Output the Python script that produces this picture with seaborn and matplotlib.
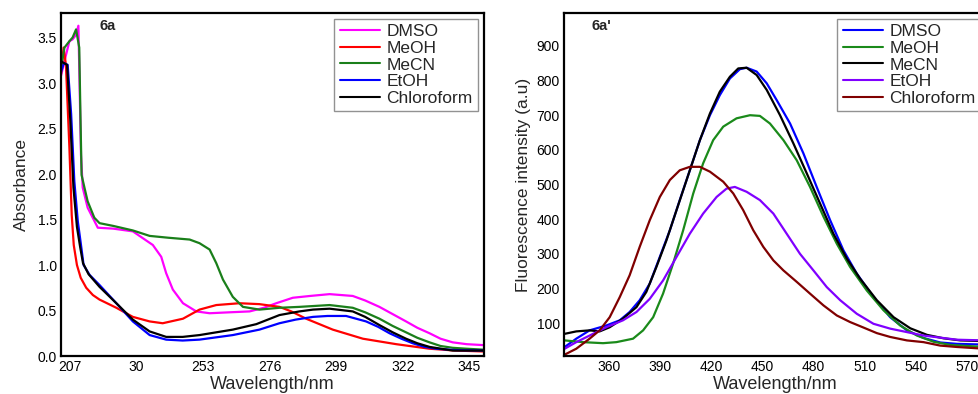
import pandas as pd
import numpy as np
import seaborn as sns
import matplotlib.pyplot as plt

# ---- panel 6a : absorbance ----
abs_dmso_x = [204.0, 205.2, 206.9, 208.0, 209.2, 210.0, 210.4, 210.9, 211.5, 213.2, 216.7, 222.0, 228.8, 235.7,
              238.6, 240.3, 242.6, 246.1, 250.7, 255.3, 262.0, 269.1, 274.0, 278.3, 284.0, 290.0, 296.7, 304.7,
              309.0, 313.9, 318.5, 323.1, 327.0, 331.2, 335.0, 339.2, 344.0, 349.6]
abs_dmso_y = [3.08, 3.24, 3.46, 3.48, 3.53, 3.63, 3.02, 2.21, 1.85, 1.63, 1.41, 1.40, 1.37, 1.22,
              1.09, 0.91, 0.73, 0.58, 0.49, 0.47, 0.48, 0.49, 0.53, 0.58, 0.64, 0.66, 0.68, 0.66,
              0.61, 0.54, 0.46, 0.38, 0.31, 0.25, 0.19, 0.15, 0.13, 0.12]

abs_meoh_x = [204.0, 204.9, 205.7, 206.9, 207.7, 208.4, 209.5, 210.8, 212.7, 215.0, 217.3, 223.1, 228.8, 234.6,
              239.1, 246.1, 251.8, 257.6, 265.6, 272.5, 279.4, 283.5, 288.6, 297.8, 308.2, 319.7, 331.2, 340.0,
              349.6]
abs_meoh_y = [3.10, 3.39, 3.20, 2.29, 1.55, 1.22, 1.00, 0.86, 0.75, 0.67, 0.62, 0.53, 0.43, 0.38,
              0.36, 0.41, 0.51, 0.56, 0.58, 0.57, 0.54, 0.49, 0.41, 0.29, 0.19, 0.13, 0.08, 0.06,
              0.05]

abs_mecn_x = [204.0, 205.2, 206.9, 208.0, 209.2, 210.3, 210.7, 211.1, 212.1, 213.2, 215.5, 217.3, 222.0, 228.8,
              234.6, 241.0, 248.4, 251.8, 255.3, 257.6, 259.9, 263.3, 266.8, 272.5, 279.4, 286.3, 296.7, 304.7,
              309.0, 313.9, 318.5, 323.1, 327.0, 331.2, 335.0, 339.2, 344.0, 349.6]
abs_mecn_y = [3.17, 3.39, 3.46, 3.50, 3.59, 3.39, 2.66, 1.99, 1.85, 1.70, 1.52, 1.46, 1.43, 1.38,
              1.32, 1.30, 1.28, 1.24, 1.17, 1.02, 0.84, 0.65, 0.54, 0.51, 0.53, 0.54, 0.56, 0.53,
              0.48, 0.41, 0.33, 0.26, 0.20, 0.15, 0.11, 0.09, 0.08, 0.07]

abs_etoh_x = [204.0, 205.0, 206.3, 207.5, 208.6, 209.8, 210.9, 211.8, 213.9, 217.3, 223.1, 228.8, 234.6, 240.3,
              246.0, 251.8, 263.3, 272.5, 279.4, 285.0, 291.0, 296.0, 302.4, 309.3, 313.5, 317.4, 321.5, 325.4,
              329.5, 333.5, 340.0, 349.6]
abs_etoh_y = [3.12, 3.22, 3.20, 2.66, 1.92, 1.48, 1.22, 1.00, 0.89, 0.78, 0.58, 0.38, 0.23, 0.18,
              0.17, 0.18, 0.23, 0.29, 0.36, 0.40, 0.43, 0.44, 0.44, 0.38, 0.32, 0.25, 0.19, 0.14,
              0.10, 0.08, 0.065, 0.06]

abs_chcl3_x = [204.0, 205.0, 206.1, 207.2, 208.3, 209.5, 210.6, 211.6, 213.5, 217.3, 223.1, 228.8, 234.6, 240.3,
               246.0, 251.8, 263.3, 271.4, 279.4, 286.3, 291.0, 296.7, 304.7, 309.0, 313.9, 318.5, 323.1, 327.0,
               331.2, 339.2, 349.6]
abs_chcl3_y = [3.24, 3.22, 3.20, 2.60, 1.85, 1.42, 1.20, 1.02, 0.90, 0.76, 0.58, 0.40, 0.27, 0.21,
               0.21, 0.23, 0.29, 0.35, 0.45, 0.49, 0.51, 0.52, 0.49, 0.43, 0.34, 0.26, 0.19, 0.14,
               0.10, 0.06, 0.06]

abs_xticks = [207, 230, 253, 276, 299, 322, 345]
abs_xticklabels = ["207", "30", "253", "276", "299", "322", "345"]

# ---- panel 6a' : fluorescence ----
fl_dmso_x = [334.0, 340.8, 348.6, 358.4, 366.3, 372.1, 378.0, 383.9, 389.8, 395.7, 401.5, 407.4, 413.3, 419.2,
             425.0, 430.9, 436.8, 440.7, 446.6, 452.5, 458.3, 466.2, 474.0, 481.8, 489.7, 497.5, 505.3, 515.1,
             524.9, 534.7, 544.5, 554.3, 564.1, 580.0]
fl_dmso_y = [31, 55, 79, 93, 108, 132, 166, 214, 291, 368, 455, 541, 628, 700,
             758, 806, 833, 837, 826, 792, 744, 676, 590, 493, 397, 310, 243, 175,
             117, 79, 57, 44, 40, 38]

fl_meoh_x = [334.0, 344.7, 356.5, 364.3, 374.1, 380.0, 385.9, 391.7, 397.6, 403.5, 409.4, 415.2, 421.1, 427.0,
             434.8, 442.7, 448.5, 454.4, 462.3, 470.1, 477.9, 485.8, 493.6, 501.4, 511.2, 521.0, 530.8, 540.6,
             550.4, 560.2, 580.0]
fl_meoh_y = [50, 45, 42, 45, 55, 79, 117, 185, 272, 368, 474, 561, 628, 667,
             691, 700, 698, 676, 628, 570, 493, 407, 329, 262, 194, 137, 93, 64,
             46, 37, 31]

fl_mecn_x = [334.0, 340.8, 348.6, 354.5, 360.4, 368.2, 376.1, 381.9, 387.8, 393.7, 399.6, 407.4, 413.3, 419.2,
             425.0, 430.9, 435.8, 440.7, 446.6, 452.5, 460.3, 468.1, 476.0, 483.8, 491.6, 499.5, 507.3, 517.1,
             526.9, 536.7, 546.5, 556.3, 566.1, 580.0]
fl_mecn_y = [69, 76, 79, 76, 88, 113, 146, 190, 262, 339, 426, 541, 628, 705,
             768, 811, 835, 837, 816, 773, 700, 619, 532, 445, 358, 286, 228, 166,
             117, 85, 66, 56, 50, 48]

fl_etoh_x = [334.0, 340.8, 348.6, 358.4, 368.2, 376.1, 383.9, 391.7, 399.6, 407.4, 415.2, 423.1, 428.9, 433.8,
             440.7, 448.5, 456.4, 464.2, 472.0, 479.9, 487.7, 495.6, 505.3, 515.1, 524.9, 534.7, 544.5, 554.3,
             564.1, 580.0]
fl_etoh_y = [26, 45, 64, 88, 108, 132, 170, 223, 291, 358, 416, 464, 488, 493,
             479, 455, 416, 358, 300, 252, 204, 166, 127, 98, 84, 74, 64, 58,
             52, 50]

fl_chcl3_x = [334.0, 340.8, 348.6, 354.5, 360.4, 366.3, 372.1, 378.0, 383.9, 389.8, 395.7, 401.5, 407.4, 413.3,
              419.2, 427.0, 432.9, 438.7, 444.6, 450.5, 456.4, 462.3, 470.1, 477.9, 485.8, 493.6, 501.4, 509.3,
              517.1, 524.9, 534.7, 544.5, 554.3, 564.1, 580.0]
fl_chcl3_y = [9, 26, 55, 79, 117, 175, 238, 320, 397, 464, 513, 541, 551, 551,
              537, 508, 474, 426, 368, 320, 281, 252, 219, 185, 151, 122, 103, 87,
              71, 60, 50, 45, 35, 31, 26]

solvents = ["DMSO", "MeOH", "MeCN", "EtOH", "Chloroform"]
abs_colors = ["#ff00ff", "#ff0000", "#1a7f1a", "#0000ff", "#000000"]
fl_colors = ["#0000ff", "#1a8a1a", "#000000", "#8000ff", "#800000"]


def long_form(xs, ys):
    parts = [pd.DataFrame({"x": x, "y": y, "solvent": s}) for s, x, y in zip(solvents, xs, ys)]
    return pd.concat(parts, ignore_index=True)


abs_df = long_form([abs_dmso_x, abs_meoh_x, abs_mecn_x, abs_etoh_x, abs_chcl3_x],
                   [abs_dmso_y, abs_meoh_y, abs_mecn_y, abs_etoh_y, abs_chcl3_y])
fl_df = long_form([fl_dmso_x, fl_meoh_x, fl_mecn_x, fl_etoh_x, fl_chcl3_x],
                  [fl_dmso_y, fl_meoh_y, fl_mecn_y, fl_etoh_y, fl_chcl3_y])

sns.set_style("white")
plt.rcParams["font.family"] = ["Liberation Sans", "DejaVu Sans"]

fig = plt.figure(figsize=(9.79, 3.94), dpi=100)
ax1 = fig.add_axes([61 / 979, 38 / 394, 423 / 979, 343 / 394])
ax2 = fig.add_axes([564 / 979, 38 / 394, 423 / 979, 343 / 394])


def style_axes(ax):
    for sp in ax.spines.values():
        sp.set_color("black")
        sp.set_linewidth(1.6)
    ax.tick_params(length=0, labelsize=10, pad=3, colors="black")
    leg = ax.legend(loc="upper right", fontsize=12.5, frameon=True, fancybox=False,
                    edgecolor="#777777", labelspacing=0.08, handlelength=2.3,
                    handletextpad=0.4, borderpad=0.3, borderaxespad=0.35)
    leg.get_frame().set_linewidth(1.0)
    for h in leg.get_lines():
        h.set_linewidth(1.5)


sns.lineplot(data=abs_df, x="x", y="y", hue="solvent", palette=abs_colors, estimator=None,
             sort=False, linewidth=1.6, ax=ax1)
ax1.set_xlim(204, 350)
ax1.set_ylim(0, 3.77)
ax1.set_xticks(abs_xticks)
ax1.set_xticklabels(abs_xticklabels)
ax1.set_yticks(np.arange(0, 3.51, 0.5))
ax1.set_yticklabels([f"{v:.1f}" for v in np.arange(0, 3.51, 0.5)])
ax1.set_xlabel("Wavelength/nm", fontsize=13, labelpad=1)
ax1.set_ylabel("Absorbance", fontsize=12.5, labelpad=6)
ax1.text(39 / 423, 1 - 6 / 343, "6a", transform=ax1.transAxes, fontsize=10.5, fontweight="bold", va="top")
style_axes(ax1)

sns.lineplot(data=fl_df, x="x", y="y", hue="solvent", palette=fl_colors, estimator=None,
             sort=False, linewidth=1.6, ax=ax2)
ax2.set_xlim(333.6, 581.7)
ax2.set_ylim(5, 995)
ax2.set_xticks(range(360, 571, 30))
ax2.set_yticks(range(100, 901, 100))
ax2.set_xlabel("Wavelength/nm", fontsize=13, labelpad=1)
ax2.set_ylabel("Fluorescence intensity (a.u)", fontsize=12.5, labelpad=4)
ax2.text(27 / 423, 1 - 6 / 343, "6a'", transform=ax2.transAxes, fontsize=10.5, fontweight="bold", va="top")
style_axes(ax2)

fig.savefig("out.png", dpi=100)
